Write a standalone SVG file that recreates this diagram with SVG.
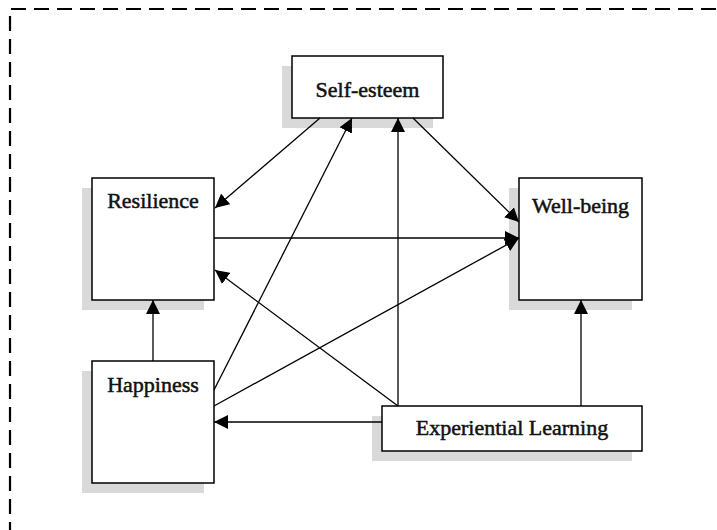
<svg xmlns="http://www.w3.org/2000/svg" width="717" height="530" viewBox="0 0 717 530">
<style>
.shadow{fill:#d9d9d9;stroke:none}
.box{fill:#fff;stroke:#000;stroke-width:1.5}
.lbl{font-family:"Liberation Serif","Times New Roman",serif;font-size:22px;fill:#111;stroke:#111;stroke-width:0.5;text-anchor:middle}
.edge{stroke:#000;stroke-width:1.3;fill:none;marker-end:url(#ah)}
</style>
<defs>
<marker id="ah" markerUnits="userSpaceOnUse" markerWidth="14" markerHeight="14" viewBox="0 0 14 14" refX="14" refY="7" orient="auto">
<path d="M0,0 L14,7 L0,14 z" fill="#000"/>
</marker>
</defs>
<path d="M10,560 L10,9 L760,9" fill="none" stroke="#000" stroke-width="2.2" stroke-dasharray="15,8"/>
<g id="self-esteem">
<rect class="shadow" x="282" y="66" width="151" height="62"/>
<rect class="box" x="292" y="56" width="151" height="62"/>
<text class="lbl" x="367.5" y="97">Self-esteem</text>
</g>
<g id="resilience">
<rect class="shadow" x="82" y="188" width="122" height="122"/>
<rect class="box" x="92" y="178" width="122" height="122"/>
<text class="lbl" x="153" y="208">Resilience</text>
</g>
<g id="well-being">
<rect class="shadow" x="509" y="188" width="123" height="122"/>
<rect class="box" x="519" y="178" width="123" height="122"/>
<text class="lbl" x="580.5" y="213">Well-being</text>
</g>
<g id="happiness">
<rect class="shadow" x="82" y="371" width="122" height="122"/>
<rect class="box" x="92" y="361" width="122" height="122"/>
<text class="lbl" x="153" y="392">Happiness</text>
</g>
<g id="experiential-learning">
<rect class="shadow" x="372" y="416" width="260" height="45"/>
<rect class="box" x="382" y="406" width="260" height="45"/>
<text class="lbl" x="512" y="435">Experiential Learning</text>
</g>
<g id="connectors">
<line class="edge" x1="320" y1="118" x2="215" y2="208"/>
<line class="edge" x1="214" y1="238" x2="519" y2="238"/>
<line class="edge" x1="413" y1="118" x2="519" y2="222"/>
<line class="edge" x1="214" y1="390" x2="352" y2="118"/>
<line class="edge" x1="398" y1="406" x2="398" y2="118"/>
<line class="edge" x1="214" y1="406" x2="519" y2="238"/>
<line class="edge" x1="398" y1="406" x2="215" y2="270"/>
<line class="edge" x1="382" y1="422" x2="214" y2="422"/>
<line class="edge" x1="581" y1="406" x2="581" y2="300"/>
<line class="edge" x1="153" y1="361" x2="153" y2="300"/>
</g>
</svg>
